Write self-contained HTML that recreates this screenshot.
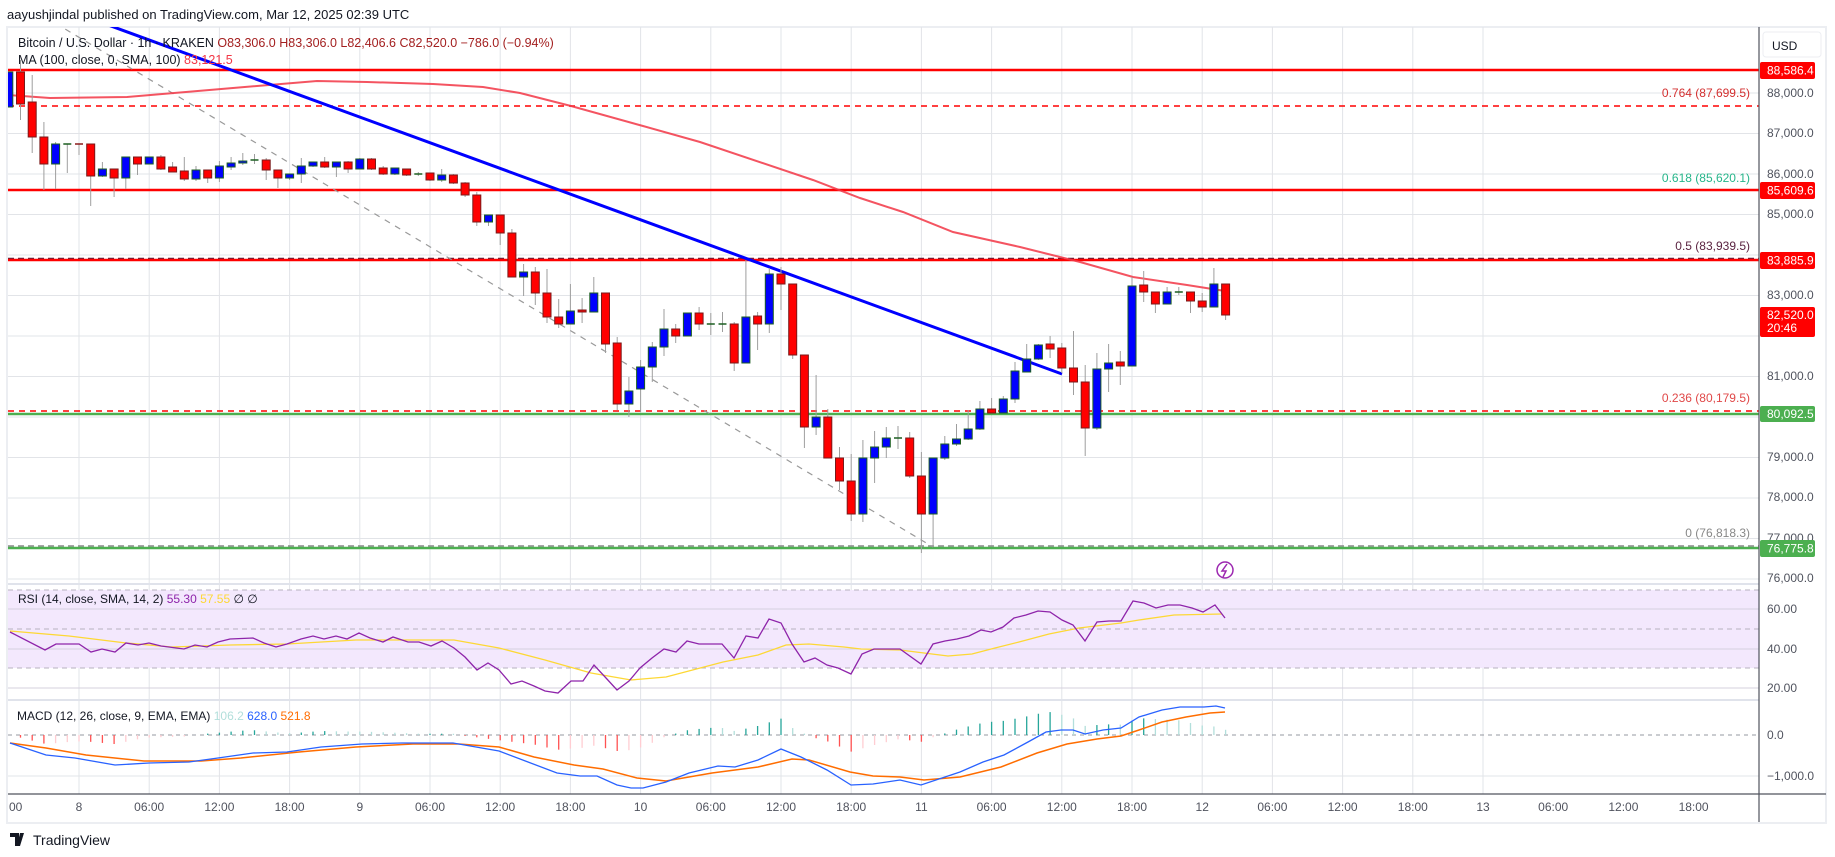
<!DOCTYPE html>
<html><head><meta charset="utf-8"><style>
html,body{margin:0;padding:0;background:#fff;}
svg{display:block;font-family:"Liberation Sans",Arial,sans-serif;}
</style></head><body>
<svg id="s" width="1835" height="857" viewBox="0 0 1835 857" xmlns="http://www.w3.org/2000/svg">
<defs>
<clipPath id="cm"><rect x="8" y="27" width="1751" height="557"/></clipPath>
<clipPath id="cr"><rect x="8" y="584" width="1751" height="116"/></clipPath>
<clipPath id="cd"><rect x="8" y="700" width="1751" height="94"/></clipPath>
</defs>
<rect x="0" y="0" width="1835" height="857" fill="#fff"/>
<text x="7" y="19" font-size="13" fill="#131722">aayushjindal published on TradingView.com, Mar 12, 2025 02:39 UTC</text>
<rect x="7" y="27" width="1819" height="796" fill="#fff" stroke="#eceef2" stroke-width="2"/>
<g id="grid"></g>
<rect x="8" y="590" width="1751" height="78" fill="#f3e8fd"/>
<g id="rsigrid"></g>
<g id="main" clip-path="url(#cm)"></g>
<g id="rsi" clip-path="url(#cr)"></g>
<g id="macd" clip-path="url(#cd)"></g>
<g id="axis"></g>
</svg>
<script>
const NS="http://www.w3.org/2000/svg";
function el(p,tag,a,txt){const e=document.createElementNS(NS,tag);for(const k in a)e.setAttribute(k,a[k]);if(txt!==undefined)e.textContent=txt;document.getElementById(p).appendChild(e);return e;}
const X=t=>79+11.7*t;
// grid verticals
for(let k=-1;k<=20;k++){const x=79+70.2*k;if(x<9||x>1758)continue;
 el('grid','line',{x1:x,y1:27,x2:x,y2:794,stroke:'#e2e4e8','stroke-width':1});}
// price grid
const Y=p=>93+(88000-p)*0.0405;
for(let p=76000;p<=88000;p+=1000){const y=Y(p);el('grid','line',{x1:8,y1:y,x2:1759,y2:y,stroke:'#e2e4e8'});}
// rsi grid
[609,649,688].forEach(y=>el('rsigrid','line',{x1:8,y1:y,x2:1759,y2:y,stroke:'#d6d0de'}));
[590,629,668].forEach(y=>el('rsigrid','line',{x1:8,y1:y,x2:1759,y2:y,stroke:'#b7b2bf','stroke-dasharray':'5,4'}));
el('grid','line',{x1:8,y1:776,x2:1759,y2:776,stroke:'#e2e4e8'});
el('grid','line',{x1:8,y1:735,x2:1759,y2:735,stroke:'#9598a1','stroke-dasharray':'4,4'});
// pane separators
el('grid','line',{x1:8,y1:584,x2:1759,y2:584,stroke:'#e0e3eb','stroke-width':2});
el('grid','line',{x1:8,y1:700,x2:1759,y2:700,stroke:'#e0e3eb','stroke-width':2});
// horizontal levels
const M='main';
el(M,'line',{x1:8,y1:106,x2:1759,y2:106,stroke:'#f00','stroke-width':1.5,'stroke-dasharray':'6,5'});
el(M,'line',{x1:8,y1:258.5,x2:1759,y2:258.5,stroke:'#5a2340','stroke-width':1.5,'stroke-dasharray':'6,4'});
el(M,'line',{x1:8,y1:411,x2:1759,y2:411,stroke:'#f00','stroke-width':1.5,'stroke-dasharray':'6,5'});
el(M,'line',{x1:8,y1:546,x2:1759,y2:546,stroke:'#888','stroke-width':1.5,'stroke-dasharray':'6,4'});
el(M,'line',{x1:8,y1:70,x2:1759,y2:70,stroke:'#f00','stroke-width':2.5});
el(M,'line',{x1:8,y1:190,x2:1759,y2:190,stroke:'#f00','stroke-width':2.5});
el(M,'line',{x1:8,y1:260,x2:1759,y2:260,stroke:'#f00','stroke-width':2.5});
el(M,'line',{x1:8,y1:414,x2:1759,y2:414,stroke:'#4caf50','stroke-width':2.5});
el(M,'line',{x1:8,y1:548,x2:1759,y2:548,stroke:'#4caf50','stroke-width':2.5});
// fib labels
const fl=[[97,'0.764 (87,699.5)','#d32f2f'],[182,'0.618 (85,620.1)','#26b58a'],[250,'0.5 (83,939.5)','#5a2340'],[402,'0.236 (80,179.5)','#e04848'],[537,'0 (76,818.3)','#888']];
fl.forEach(f=>el(M,'text',{x:1750,y:f[0],'font-size':12,fill:f[2],'text-anchor':'end'},f[1]));
// gray dashed diagonal
el(M,'line',{x1:55,y1:23,x2:933,y2:547,stroke:'#999','stroke-width':1.2,'stroke-dasharray':'6,6'});
// MA
const ma=[[8,95],[50,98],[127,97],[233,88],[317,81],[367,82],[433,84],[483,87],[520,93],[571,106],[643,126],[700,142],[813,180],[860,198],[903,212],[953,232],[1020,247],[1080,262],[1133,277],[1187,285],[1225,291]];
el(M,'polyline',{points:ma.map(p=>p.join(',')).join(' '),fill:'none',stroke:'#f23645','stroke-width':2,'stroke-opacity':0.85});
// trend line
el(M,'line',{x1:100,y1:22,x2:1062,y2:374,stroke:'#0000ff','stroke-width':3});
// candles
const C=[
[-6,'b',72,107,72,107],[-5,'r',72,104,60,120],[-4,'r',102,137,75,153],[-3,'r',137,164,122,190],[-2,'b',144,164,142,189],[-1,'dg',144,144,144,173],[0,'dr',144,144,144,155],[1,'r',144,176,144,206],[2,'b',169,176,162,177],[3,'r',169,178,169,197],[4,'b',157,178,157,189],[5,'r',157,164,157,175],[6,'b',157,164,157,164],[7,'r',157,169,155,170],[8,'r',167,172,162,172],[9,'r',171,179,157,181],[10,'b',170,179,166,181],[11,'r',170,178,170,183],[12,'b',166,178,161,182],[13,'b',163,167,157,170],[14,'b',161,163,153,165],[15,'dg',160,160,154,164],[16,'r',160,170,158,180],[17,'r',170,178,170,188],[18,'b',174,178,174,180],[19,'b',166,174,158,183],[20,'b',162,166,162,167],[21,'r',162,167,157,168],[22,'b',162,167,162,177],[23,'r',162,169,161,173],[24,'b',159,169,158,169],[25,'r',159,169,158,170],[26,'r',168,174,166,175],[27,'b',168,174,168,175],[28,'r',169,175,169,176],[29,'dg',174,174,172,176],[30,'r',173,180,173,181],[31,'b',175,180,169,182],[32,'r',175,183,174,184],[33,'r',183,195,182,197],[34,'r',195,222,192,226],[35,'b',215,222,215,226],[36,'r',215,233,215,245],[37,'r',233,277,229,277],[38,'b',272,277,264,296],[39,'r',272,293,267,305],[40,'r',293,317,269,323],[41,'r',317,324,299,328],[42,'b',311,324,284,324],[43,'r',310,312,298,323],[44,'b',293,312,277,312],[45,'r',293,344,293,353],[46,'r',343,404,337,410],[47,'b',391,404,377,417],[48,'b',367,389,360,412],[49,'b',347,367,342,382],[50,'b',329,347,309,356],[51,'r',329,336,324,343],[52,'b',313,336,313,336],[53,'r',313,324,307,330],[54,'dg',324,324,313,335],[55,'dg',324,324,312,332],[56,'r',324,363,322,371],[57,'b',317,363,260,363],[58,'r',316,324,312,350],[59,'b',274,324,268,333],[60,'r',274,284,267,310],[61,'r',284,355,284,359],[62,'r',355,427,355,448],[63,'b',417,427,375,435],[64,'r',417,458,409,458],[65,'r',458,481,447,490],[66,'r',481,514,454,521],[67,'b',458,514,440,522],[68,'b',447,458,431,483],[69,'b',438,447,427,458],[70,'dg',438,438,426,449],[71,'r',438,476,432,478],[72,'r',476,514,452,553],[73,'b',458,514,458,547],[74,'b',444,458,436,460],[75,'b',439,444,424,446],[76,'b',429,439,410,440],[77,'b',409,429,401,430],[78,'r',409,413,398,413],[79,'b',399,413,396,413],[80,'b',371,399,362,403],[81,'b',359,372,344,372],[82,'b',345,359,344,360],[83,'r',344,349,336,358],[84,'r',348,368,343,373],[85,'r',368,382,331,395],[86,'r',382,428,365,456],[87,'b',369,428,353,430],[88,'b',363,369,344,392],[89,'r',362,366,351,385],[90,'b',286,366,277,366],[91,'r',285,292,271,302],[92,'r',292,304,292,313],[93,'b',292,304,287,304],[94,'dg',292,292,287,295],[95,'r',292,301,292,313],[96,'r',301,307,293,312],[97,'b',284,307,268,307],[98,'r',284,315,284,320]];
C.forEach(c=>{const x=X(c[0]);
 el(M,'line',{x1:x,y1:c[4],x2:x,y2:c[5],stroke:'#9e9e9e','stroke-width':1});
 if(c[1]=='dg'||c[1]=='dr'){el(M,'line',{x1:x-4,y1:c[2],x2:x+4,y2:c[2],stroke:c[1]=='dg'?'#1b5e20':'#8b1a1a','stroke-width':1.5});return;}
 const h=Math.max(c[3]-c[2],2);
 el(M,'rect',{x:x-4,y:c[2],width:8,height:h,fill:c[1]=='r'?'#ff0000':'#0000ff',stroke:c[1]=='r'?'#7a1a1a':'#1b5e20','stroke-width':1});
});
// lightning icon
el(M,'circle',{cx:1225,cy:570,r:8,fill:'#fff',stroke:'#9c27b0','stroke-width':1.5});
el(M,'path',{d:'M1227 564 L1222 571 L1226 571 L1223 577',fill:'none',stroke:'#9c27b0','stroke-width':1.5});
// RSI
const rsi=[[10,632],[45,650],[56,644],[79,644],[91,652],[102,649],[115,652],[126,643],[138,645],[149,643],[161,646],[184,649],[195,645],[207,647],[218,642],[230,639],[253,638],[264,643],[276,647],[287,644],[301,639],[313,636],[324,639],[336,636],[347,639],[359,633],[370,638],[383,642],[393,637],[408,642],[419,642],[431,646],[442,641],[454,648],[465,657],[477,670],[488,663],[499,670],[511,684],[522,681],[534,686],[545,691],[558,693],[571,681],[583,681],[594,665],[606,678],[617,690],[629,681],[640,668],[652,658],[664,649],[676,652],[687,641],[699,644],[722,644],[734,658],[746,636],[758,638],[769,619],[781,623],[792,644],[804,662],[815,658],[827,665],[838,668],[851,674],[862,654],[874,649],[896,649],[900,649],[921,664],[933,644],[945,641],[957,639],[969,636],[981,630],[991,632],[1003,627],[1014,618],[1026,615],[1038,611],[1050,612],[1062,620],[1073,625],[1085,641],[1097,622],[1109,621],[1121,621],[1133,601],[1144,603],[1156,608],[1168,605],[1180,605],[1192,608],[1203,612],[1215,605],[1225,618]];
const rma=[[10,631],[69,636],[126,643],[172,647],[230,645],[287,644],[356,640],[402,640],[454,640],[499,648],[545,660],[591,673],[631,680],[666,677],[723,662],[758,655],[786,645],[809,644],[844,647],[861,649],[900,650],[924,653],[948,656],[972,654],[995,648],[1019,642],[1049,634],[1079,628],[1121,623],[1139,620],[1174,615],[1222,614]];
el('rsi','polyline',{points:rma.map(p=>p.join(',')).join(' '),fill:'none',stroke:'#fdd835','stroke-width':1.3});
el('rsi','polyline',{points:rsi.map(p=>p.join(',')).join(' '),fill:'none',stroke:'#8e24aa','stroke-width':1.3});
// MACD
const mb=[[10,743],[46,755],[75,758],[115,765],[149,763],[189,762],[218,758],[253,753],[287,752],[321,747],[362,744],[402,743],[453,743],[499,751],[528,762],[557,773],[580,776],[597,776],[617,785],[631,788],[643,788],[666,782],[689,773],[718,766],[735,767],[758,760],[781,749],[801,757],[827,770],[851,785],[873,784],[900,780],[921,785],[960,772],[983,762],[1004,755],[1028,742],[1046,732],[1061,730],[1073,730],[1085,734],[1103,730],[1121,728],[1139,717],[1162,710],[1180,707],[1204,707],[1216,706],[1225,708]];
const mo=[[10,743],[46,748],[86,755],[144,761],[201,761],[241,758],[299,752],[356,747],[413,744],[459,744],[499,747],[534,757],[574,765],[603,769],[637,778],[666,781],[712,773],[758,767],[792,759],[809,760],[850,772],[873,776],[900,777],[924,780],[960,777],[1001,767],[1037,753],[1067,744],[1097,739],[1121,736],[1139,730],[1162,722],[1186,717],[1210,713],[1225,712]];
function interp(a,x){for(let i=1;i<a.length;i++){if(x<=a[i][0]){const p=a[i-1],q=a[i];return p[1]+(q[1]-p[1])*(x-p[0])/(q[0]-p[0]);}}return a[a.length-1][1];}
let prev=0;
for(let t=-6;t<=98;t++){const x=X(t);if(x<10)continue;const d=(interp(mo,x)-interp(mb,x))*1.3;
 const col=d>=0?(d>=prev?'#26a69a':'#b2dfdb'):(d<=prev?'#ff5252':'#ffcdd2');prev=d;
 el('macd','line',{x1:x,y1:735,x2:x,y2:735-d,stroke:col,'stroke-width':1.3});}
el('macd','polyline',{points:mo.map(p=>p.join(',')).join(' '),fill:'none',stroke:'#ff6d00','stroke-width':1.5});
el('macd','polyline',{points:mb.map(p=>p.join(',')).join(' '),fill:'none',stroke:'#2962ff','stroke-width':1.3});
// axes
const A='axis';
el(A,'line',{x1:1759,y1:27,x2:1759,y2:822,stroke:'#50535e','stroke-width':1.2});
el(A,'line',{x1:8,y1:794,x2:1826,y2:794,stroke:'#50535e','stroke-width':1.2});
el(A,'rect',{x:1763,y:32,width:58,height:25,rx:3,fill:'#fff',stroke:'#eceef2'});
el(A,'text',{x:1772,y:50,'font-size':12,fill:'#131722'},'USD');
const pl=[[88000,93],[87000,133],[86000,174],[85000,214],[83000,295],[81000,376],[79000,457],[78000,497],[77000,538],[76000,578]];
pl.forEach(p=>el(A,'text',{x:1767,y:p[1]+4,'font-size':12,fill:'#50535e'},p[0].toLocaleString('en-US')+'.0'));
function badge(y1,y2,bg,txt,txt2){el(A,'rect',{x:1760,y:y1,width:55,height:y2-y1,rx:2,fill:bg});
 el(A,'text',{x:1767,y:txt2?y1+12:(y1+y2)/2+4,'font-size':12,fill:'#fff'},txt);
 if(txt2)el(A,'text',{x:1767,y:y1+25,'font-size':12,fill:'#fff'},txt2);}
badge(62,79,'#f00','88,586.4');badge(182,199,'#f00','85,609.6');badge(252,269,'#f00','83,885.9');
badge(307,337,'#f00','82,520.0','20:46');badge(406,422,'#4caf50','80,092.5');badge(540,557,'#4caf50','76,775.8');
[[609,'60.00'],[649,'40.00'],[688,'20.00'],[735,'0.0'],[776,'−1,000.0']].forEach(p=>el(A,'text',{x:1767,y:p[0]+4,'font-size':12,fill:'#50535e'},p[1]));
// time labels
const tl=['18:00','8','06:00','12:00','18:00','9','06:00','12:00','18:00','10','06:00','12:00','18:00','11','06:00','12:00','18:00','12','06:00','12:00','18:00','13','06:00','12:00','18:00'];
for(let k=1;k<tl.length;k++){const x=79+70.2*(k-1);if(x>1740)break;el(A,'text',{x:x,y:811,'font-size':12,fill:'#50535e','text-anchor':'middle'},tl[k]);}
el(A,'text',{x:9,y:811,'font-size':12,fill:'#50535e'},'00');
// legends
const L1=el(A,'text',{x:18,y:47,'font-size':12.5,fill:'#131722'});
[['Bitcoin / U.S. Dollar · 1h · KRAKEN  ','#131722'],['O83,306.0  H83,306.0  L82,406.6  C82,520.0  −786.0 (−0.94%)','#a31f1f']].forEach(s=>{const t=document.createElementNS(NS,'tspan');t.setAttribute('fill',s[1]);t.textContent=s[0];L1.appendChild(t);});
L1.setAttribute('xml:space','preserve');
const L2=el(A,'text',{x:18,y:64,'font-size':12.5,fill:'#131722'});
[['MA (100, close, 0, SMA, 100) ','#131722'],['83,121.5','#f23645']].forEach(s=>{const t=document.createElementNS(NS,'tspan');t.setAttribute('fill',s[1]);t.textContent=s[0];L2.appendChild(t);});
const L3=el(A,'text',{x:18,y:603,'font-size':12,fill:'#131722'});
[['RSI (14, close, SMA, 14, 2) ','#131722'],['55.30 ','#8e24aa'],['57.55 ','#fdd835'],[' ∅  ∅','#131722']].forEach(s=>{const t=document.createElementNS(NS,'tspan');t.setAttribute('fill',s[1]);t.textContent=s[0];L3.appendChild(t);});
const L4=el(A,'text',{x:17,y:720,'font-size':12,fill:'#131722'});
[['MACD (12, 26, close, 9, EMA, EMA) ','#131722'],['106.2 ','#b2dfdb'],['628.0 ','#2962ff'],['521.8','#ff6d00']].forEach(s=>{const t=document.createElementNS(NS,'tspan');t.setAttribute('fill',s[1]);t.textContent=s[0];L4.appendChild(t);});
// logo
el(A,'path',{d:'M10 833 H19 V846 H15 V837 H10 Z M20 833 H24 L20 846 H17 Z',fill:'#131722'});
el(A,'circle',{cx:22,cy:835,r:0,fill:'#131722'});
el(A,'text',{x:33,y:845,'font-size':14,fill:'#131722'},'TradingView');
</script>
</body></html>
